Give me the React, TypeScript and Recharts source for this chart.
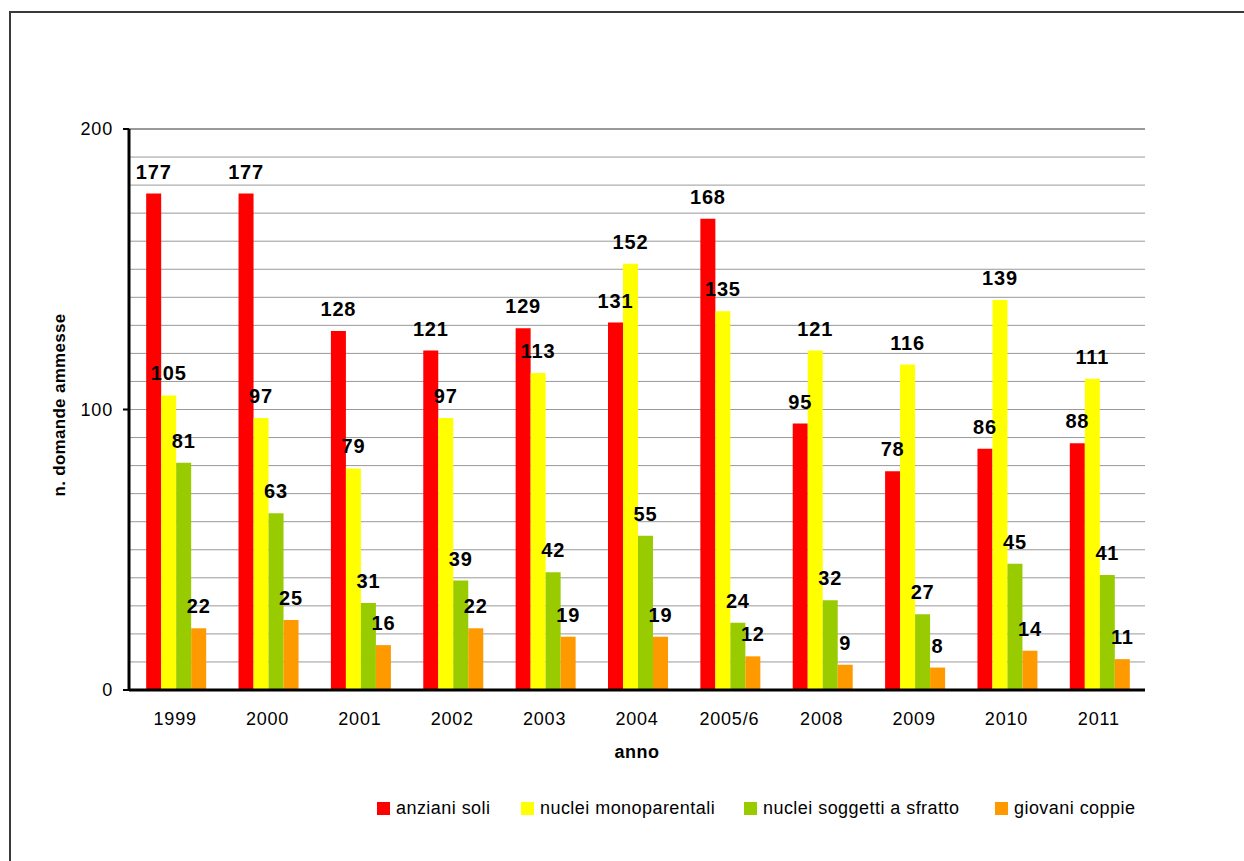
import { BarChart, Bar, XAxis, YAxis, CartesianGrid, LabelList, ReferenceLine } from 'recharts';

const anni = ['1999', '2000', '2001', '2002', '2003', '2004', '2005/6', '2008', '2009', '2010', '2011'];
const anzianiSoli = [177, 177, 128, 121, 129, 131, 168, 95, 78, 86, 88];
const nucleiMonoparentali = [105, 97, 79, 97, 113, 152, 135, 121, 116, 139, 111];
const nucleiSfratto = [81, 63, 31, 39, 42, 55, 24, 32, 27, 45, 41];
const giovaniCoppie = [22, 25, 16, 22, 19, 19, 12, 9, 8, 14, 11];

const yTicks = [0, 10, 20, 30, 40, 50, 60, 70, 80, 90, 100, 110, 120, 130, 140, 150, 160, 170, 180, 190, 200];
const yLabels = [0, 100, 200];
const boundaries = [0, 1, 2, 3, 4, 5, 6, 7, 8, 9, 10, 11];

const series = [
  { key: 'anziani', name: 'anziani soli', color: '#FF0000', left: 377 },
  { key: 'mono', name: 'nuclei monoparentali', color: '#FFFF00', left: 521 },
  { key: 'sfratto', name: 'nuclei soggetti a sfratto', color: '#99CC00', left: 744 },
  { key: 'giovani', name: 'giovani coppie', color: '#FF9900', left: 995 },
];

const data = anni.map((anno, i) => ({
  anno,
  anziani: anzianiSoli[i],
  mono: nucleiMonoparentali[i],
  sfratto: nucleiSfratto[i],
  giovani: giovaniCoppie[i],
}));

const font = '"Liberation Sans", Arial, sans-serif';

const YTick = ({ x, y, payload }: any) => {
  if (!yLabels.includes(payload.value)) return <g />;
  return (
    <g>
      <line x1={x + 2} y1={y} x2={x + 8} y2={y} stroke="#000" strokeWidth={2} />
      <text x={x - 8} y={y} dy="0.36em" textAnchor="end" fontSize={18} letterSpacing={0.8} fill="#000" fontFamily={font}>
        {payload.value}
      </text>
    </g>
  );
};

const XTitle = () => (
  <text x={637} y={758} textAnchor="middle" fontSize={18} fontWeight="bold" letterSpacing={0.5} fill="#000" fontFamily={font}>
    anno
  </text>
);

const YTitle = () => (
  <text transform="translate(65,405) rotate(-90)" textAnchor="middle" fontSize={17} fontWeight="bold" letterSpacing={0.3} fill="#000" fontFamily={font}>
    n. domande ammesse
  </text>
);

export default function App() {
  return (
    <div style={{ position: 'absolute', left: 0, top: 0, width: 1244, height: 861, overflow: 'hidden', background: '#fff', fontFamily: font }}>
      <div style={{ position: 'absolute', left: 9, top: 11, width: 1300, height: 900, border: '2px solid #3a3a3a' }} />
      <div style={{ position: 'absolute', left: 0, top: 0 }}>
        <BarChart
          width={1244}
          height={861}
          data={data}
          margin={{ top: 129, right: 99, left: 69, bottom: 123 }}
          barCategoryGap="18.6%"
          barGap={0}
        >
          <CartesianGrid vertical={false} stroke="#999" strokeWidth={1} />
          <XAxis
            xAxisId={0}
            type="number"
            domain={[0, 11]}
            ticks={boundaries}
            allowDataOverflow
            height={8}
            tick={false}
            tickSize={6}
            axisLine={{ stroke: '#000', strokeWidth: 3 }}
            tickLine={{ stroke: '#000', strokeWidth: 2 }}
          />
          <XAxis
            xAxisId={1}
            dataKey="anno"
            height={40}
            axisLine={false}
            tickLine={false}
            tickMargin={8}
            interval={0}
            tick={{ fill: '#000', fontSize: 18, letterSpacing: 0.8, fontFamily: font }}
            label={<XTitle />}
          />
          <YAxis
            domain={[0, 200]}
            ticks={yTicks}
            interval={0}
            width={60}
            tickLine={false}
            axisLine={{ stroke: '#000', strokeWidth: 3 }}
            tick={<YTick />}
            label={<YTitle />}
          />
          <ReferenceLine y={200} stroke="#999" strokeWidth={2} />
          <ReferenceLine xAxisId={0} x={11} stroke="#999" strokeWidth={2} />
          {series.map((s) => (
            <Bar key={s.key} xAxisId={1} dataKey={s.key} name={s.name} fill={s.color} isAnimationActive={false}>
              <LabelList
                dataKey={s.key}
                position="top"
                offset={15}
                fill="#000"
                fontSize={20}
                fontWeight="bold"
                letterSpacing={0.8}
                fontFamily={font}
              />
            </Bar>
          ))}
        </BarChart>
      </div>
      {series.map((s) => (
        <div key={s.key} style={{ position: 'absolute', left: s.left, top: 797, height: 22, display: 'flex', alignItems: 'center' }}>
          <div style={{ width: 13, height: 13, background: s.color, marginRight: 6 }} />
          <span style={{ fontSize: 18, letterSpacing: 0.45, color: '#000', whiteSpace: 'nowrap' }}>{s.name}</span>
        </div>
      ))}
    </div>
  );
}
